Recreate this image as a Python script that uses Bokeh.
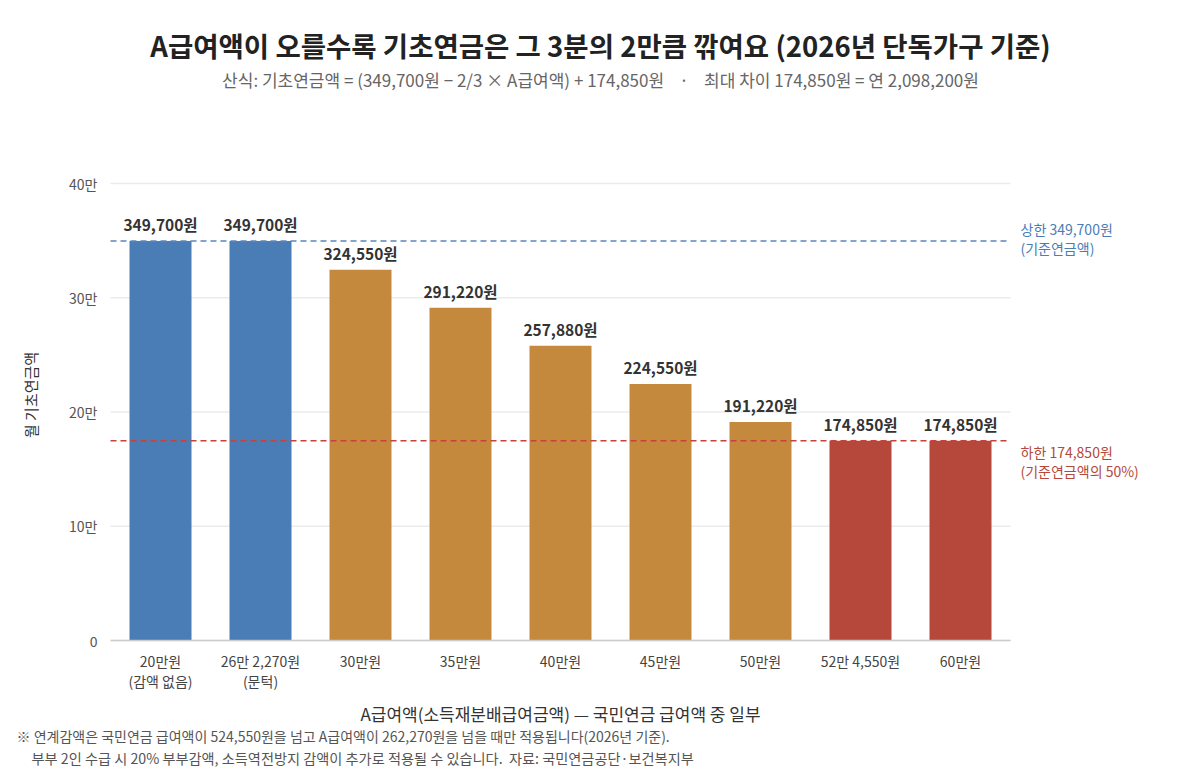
from bokeh.plotting import figure
from bokeh.models import Label, Range1d, FixedTicker, ColumnDataSource
from bokeh.core.properties import value
from bokeh.embed import file_html
from bokeh.resources import INLINE

FONT = "Noto Sans CJK KR"
NB = "\u00a0"

categories = ["20만원", "26만 2,270원", "30만원", "35만원", "40만원", "45만원", "50만원", "52만 4,550원", "60만원"]
tick_sublabels = ["(감액 없음)", "(문턱)", "", "", "", "", "", "", ""]
pension = [349700, 349700, 324550, 291220, 257880, 224550, 191220, 174850, 174850]
groups = ["max", "max", "mid", "mid", "mid", "mid", "mid", "min", "min"]
value_labels = ["349,700원", "349,700원", "324,550원", "291,220원", "257,880원", "224,550원", "191,220원", "174,850원", "174,850원"]
upper = 349700
lower = 174850
y_ticks = [0, 100000, 200000, 300000, 400000]
y_tick_labels = ["0", "10만", "20만", "30만", "40만"]

BLUE = "#4a7db5"
ORANGE = "#c5893e"
RED = "#b5483b"
color_map = {"max": BLUE, "mid": ORANGE, "min": RED}

# page geometry (canvas == frame; axes are placed with fixed_location)
W, H = 1184, 768
X0_PX, CAT_PX = 110, 100             # page x of category 0 edge, px per category
Y0_PX, PX_PER_Y = 640, 457 / 400000  # page y of value 0, px per unit value


def dx(px):
    return (px - X0_PX) / CAT_PX


def dy(py):
    return (Y0_PX - py) / PX_PER_Y


n = len(categories)
xs = [i + 0.5 for i in range(n)]

src = ColumnDataSource(dict(
    x=xs, top=pension, color=[color_map[g] for g in groups], label=value_labels,
))

p = figure(
    width=W, height=H,
    x_range=Range1d(dx(0), dx(W)),
    y_range=Range1d(dy(H), dy(0)),
    output_backend="svg", toolbar_location=None,
    min_border=0,
)
p.outline_line_color = None
p.background_fill_color = "white"
p.border_fill_color = "white"
p.xgrid.visible = False
p.ygrid.visible = False

# horizontal grid lines limited to the category span
p.segment(x0=0, x1=n, y0=y_ticks, y1=y_ticks, line_color="#ebebeb", line_width=1.5)

p.vbar(x="x", top="top", width=0.62, color="color", source=src, line_color=None)
p.text(x="x", y="top", text="label", source=src, text_align="center", text_baseline="bottom",
       y_offset=-6, text_font=value(FONT), text_font_size="15.5px", text_font_style="bold",
       text_color="#333333")

# reference lines
p.segment(x0=0, x1=n, y0=upper, y1=upper, line_color="#5a88c0", line_dash="6 4", line_width=1.5)
p.segment(x0=0, x1=n, y0=lower, y1=lower, line_color="#c8413a", line_dash="6 4", line_width=1.5)

# y axis
p.yaxis.fixed_location = 0
p.yaxis.bounds = (0, 430000)
p.yaxis.ticker = FixedTicker(ticks=y_ticks)
p.yaxis.major_label_overrides = {t: l for t, l in zip(y_ticks, y_tick_labels)}
p.yaxis.axis_line_color = None
p.yaxis.major_tick_line_color = None
p.yaxis.major_tick_out = 0
p.yaxis.minor_tick_line_color = None
p.yaxis.major_label_standoff = 13
p.yaxis.major_label_text_font = FONT
p.yaxis.major_label_text_font_size = "14px"
p.yaxis.major_label_text_color = "#555555"
p.yaxis.axis_label = "월 기초연금액"
p.yaxis.axis_label_text_font = FONT
p.yaxis.axis_label_text_font_size = "15px"
p.yaxis.axis_label_text_font_style = "normal"
p.yaxis.axis_label_text_color = "#333333"
p.yaxis.axis_label_standoff = 25

# x axis
p.xaxis.fixed_location = 0
p.xaxis.bounds = (0, n)
p.xaxis.ticker = FixedTicker(ticks=xs)
p.xaxis.major_label_overrides = {x: c for x, c in zip(xs, categories)}
p.xaxis.axis_line_color = "#cccccc"
p.xaxis.axis_line_width = 1.5
p.xaxis.major_tick_line_color = None
p.xaxis.major_tick_out = 0
p.xaxis.minor_tick_line_color = None
p.xaxis.major_label_standoff = 10
p.xaxis.major_label_text_font = FONT
p.xaxis.major_label_text_font_size = "14px"
p.xaxis.major_label_text_color = "#444444"
p.xaxis.axis_label = "A급여액(소득재분배급여금액) — 국민연금 급여액 중 일부"
p.xaxis.axis_label_text_font = FONT
p.xaxis.axis_label_text_font_size = "17px"
p.xaxis.axis_label_text_font_style = "normal"
p.xaxis.axis_label_text_color = "#333333"
p.xaxis.axis_label_standoff = 27


def page_label(x, y, text, size, color, style="normal", align="left"):
    p.add_layout(Label(x=dx(x), y=dy(y), text=text,
                       text_font=FONT, text_font_size=size, text_color=color,
                       text_font_style=style, text_align=align, text_baseline="middle"))


page_label(600, 44, "A급여액이 오를수록 기초연금은 그 3분의 2만큼 깎여요 (2026년 단독가구 기준)",
           "27.5px", "#222222", style="bold", align="center")
page_label(600, 79, "산식: 기초연금액 = (349,700원 − 2/3 × A급여액) + 174,850원" + NB * 4 + "·" + NB * 4
           + "최대 차이 174,850원 = 연 2,098,200원",
           "17px", "#666666", align="center")

page_label(1020, 228, "상한 349,700원", "14px", BLUE)
page_label(1020, 247, "(기준연금액)", "14px", BLUE)
page_label(1020, 451, "하한 174,850원", "14px", RED)
page_label(1020, 470, "(기준연금액의 50%)", "14px", RED)

for x, sub in zip(xs, tick_sublabels):
    if sub:
        p.add_layout(Label(x=x, y=dy(680), text=sub, text_font=FONT, text_font_size="14px",
                           text_color="#444444", text_align="center", text_baseline="middle"))

page_label(16, 735, "※ 연계감액은 국민연금 급여액이 524,550원을 넘고 A급여액이 262,270원을 넘을 때만 적용됩니다(2026년 기준).",
           "14px", "#555555")
page_label(31, 757, "부부 2인 수급 시 20% 부부감액, 소득역전방지 감액이 추가로 적용될 수 있습니다." + NB * 2
           + "자료: 국민연금공단·보건복지부",
           "14.2px", "#555555")

open("out.html", "w").write(file_html(p, INLINE))
